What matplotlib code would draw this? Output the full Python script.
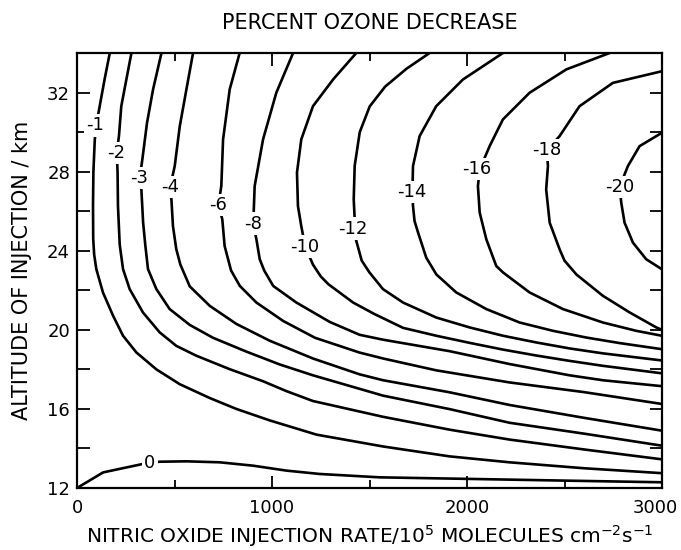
import matplotlib
matplotlib.use('Agg')
import matplotlib.pyplot as plt
from matplotlib.ticker import MultipleLocator, FixedLocator, FixedFormatter

# contours: NO injection rate (1e5 cm-2 s-1) vs altitude (km)
rate_0 = [0, 134, 339, 424, 561, 732, 903, 1074, 1245, 1552, 2014, 2526, 3000]
alt_0 = [12.0, 12.79, 13.22, 13.33, 13.35, 13.30, 13.13, 12.88, 12.71, 12.54, 12.46, 12.37, 12.29]

rate_1 = [168, 142, 116, 98, 91, 84, 82, 83, 88, 99, 133, 185, 236, 304, 407, 527, 681, 817, 988, 1228, 1570, 1911, 2218, 2600, 3000]
alt_1 = [34.0, 32.7, 31.3, 30.3, 29.6, 28.0, 26.3, 24.6, 23.8, 23.07, 21.89, 20.71, 19.7, 18.86, 18.0, 17.25, 16.55, 16.0, 15.42, 14.7, 14.1, 13.6, 13.3, 13.0, 12.75]

rate_2 = [279, 253, 227, 215, 204, 208, 210, 219, 236, 270, 338, 424, 509, 612, 783, 954, 1074, 1210, 1570, 1911, 2218, 2600, 3000]
alt_2 = [34.0, 32.66, 31.31, 29.8, 28.96, 27.95, 26.26, 24.3, 23.07, 22.06, 20.88, 19.87, 19.19, 18.69, 18.01, 17.4, 16.9, 16.4, 15.6, 14.95, 14.45, 13.95, 13.45]

rate_3 = [433, 390, 359, 335, 322, 330, 339, 350, 364, 407, 475, 578, 697, 868, 1039, 1210, 1570, 1911, 2218, 2600, 3000]
alt_3 = [34.0, 32.16, 30.47, 28.62, 27.69, 27.1, 25.42, 24.3, 23.07, 22.06, 21.05, 20.25, 19.6, 18.9, 18.25, 17.7, 16.67, 15.99, 15.3, 14.75, 14.14]

rate_4 = [595, 561, 527, 501, 478, 484, 492, 509, 530, 578, 681, 817, 988, 1210, 1449, 1570, 1911, 2218, 2600, 3000]
alt_4 = [34.0, 32.16, 30.3, 28.28, 27.24, 26.6, 25.25, 24.08, 23.3, 22.2, 21.21, 20.3, 19.45, 18.55, 17.75, 17.45, 16.84, 16.2, 15.55, 14.9]

rate_6 = [834, 783, 749, 740, 725, 745, 757, 790, 835, 920, 1057, 1220, 1449, 1570, 1843, 2218, 2600, 3000]
alt_6 = [34.0, 32.16, 29.63, 27.27, 26.31, 25.59, 24.24, 23.0, 22.22, 21.38, 20.45, 19.6, 18.85, 18.55, 17.95, 17.34, 16.85, 16.25]

rate_8 = [1108, 1022, 954, 911, 906, 903, 920, 937, 960, 1006, 1125, 1296, 1449, 1570, 1911, 2218, 2526, 2697, 3000]
alt_8 = [34.0, 31.99, 29.63, 27.27, 25.93, 25.37, 24.58, 23.57, 23.0, 22.22, 21.38, 20.4, 19.75, 19.5, 18.92, 18.27, 17.7, 17.45, 17.15]

rate_10 = [1432, 1313, 1210, 1150, 1128, 1133, 1150, 1170, 1210, 1250, 1290, 1416, 1525, 1672, 1843, 2014, 2185, 2356, 2526, 2697, 3000]
alt_10 = [34.0, 32.66, 31.31, 29.63, 27.95, 26.26, 25.25, 24.21, 23.3, 22.7, 22.3, 21.38, 20.8, 20.1, 19.7, 19.34, 19.0, 18.7, 18.43, 18.18, 17.8]

rate_12 = [1808, 1689, 1580, 1501, 1450, 1424, 1419, 1424, 1415, 1435, 1460, 1500, 1569, 1672, 1843, 2014, 2185, 2356, 2526, 2697, 3000]
alt_12 = [34.0, 33.2, 32.3, 31.3, 30.0, 28.3, 26.6, 25.6, 25.12, 24.4, 23.5, 22.9, 22.06, 21.38, 20.62, 20.12, 19.70, 19.36, 19.06, 18.81, 18.45]

rate_14 = [2184, 1979, 1842, 1757, 1723, 1720, 1723, 1731, 1749, 1791, 1843, 1945, 2099, 2270, 2441, 2612, 2783, 3000]
alt_14 = [34.0, 32.66, 31.31, 29.8, 28.28, 26.97, 26.26, 25.5, 24.92, 23.65, 22.8, 21.89, 21.05, 20.37, 19.95, 19.61, 19.33, 19.02]

rate_16 = [2731, 2509, 2321, 2184, 2116, 2065, 2056, 2065, 2099, 2150, 2185, 2321, 2492, 2697, 2868, 3000]
alt_16 = [34.0, 33.17, 31.99, 30.64, 29.29, 28.11, 27.27, 25.93, 24.58, 23.23, 22.9, 21.89, 21.05, 20.37, 19.95, 19.70]

rate_18 = [3000, 2748, 2577, 2475, 2410, 2415, 2406, 2424, 2475, 2500, 2561, 2697, 2834, 2971, 3000]
alt_18 = [33.08, 32.49, 31.31, 29.8, 29.09, 28.28, 27.1, 25.42, 24.07, 23.5, 22.8, 21.72, 20.88, 20.12, 20.0]

rate_20 = [3000, 2885, 2825, 2783, 2791, 2808, 2851, 2919, 3000]
alt_20 = [29.97, 29.29, 28.28, 27.24, 26.43, 25.42, 24.41, 23.57, 23.06]

# contour labels
label_text = ['0', '-1', '-2', '-3', '-4', '-6', '-8', '-10', '-12', '-14', '-16', '-18', '-20']
label_rate = [373, 94, 202, 318, 475, 723, 903, 1167, 1415, 1718, 2048, 2410, 2783]
label_alt = [13.25, 30.34, 28.96, 27.69, 27.24, 26.31, 25.37, 24.21, 25.12, 26.97, 28.15, 29.09, 27.24]

x_ticks = [0, 1000, 2000, 3000]
x_ticklabels = ['0', '1000', '2000', '3000']

lines = [(rate_0, alt_0), (rate_1, alt_1), (rate_2, alt_2), (rate_3, alt_3),
         (rate_4, alt_4), (rate_6, alt_6), (rate_8, alt_8), (rate_10, alt_10),
         (rate_12, alt_12), (rate_14, alt_14), (rate_16, alt_16),
         (rate_18, alt_18), (rate_20, alt_20)]

fig = plt.figure(figsize=(6.81, 5.5), dpi=100)
ax = fig.add_axes([0.1131, 0.1127, 0.859, 0.7909])

for r, a in lines:
    ax.plot(r, a, color='black', lw=1.9, solid_joinstyle='round')

for t, r, a in zip(label_text, label_rate, label_alt):
    ax.text(r, a, t, fontsize=13, ha='center', va='center', zorder=5,
            bbox=dict(boxstyle='square,pad=0.12', fc='white', ec='none'))

ax.set_xlim(0, 3000)
ax.set_ylim(12, 34)
ax.xaxis.set_major_locator(FixedLocator(x_ticks))
# last label is drawn separately, nudged left so it stays inside the figure
ax.xaxis.set_major_formatter(FixedFormatter(x_ticklabels[:-1] + ['']))
ax.xaxis.set_minor_locator(MultipleLocator(500))
ax.yaxis.set_major_locator(MultipleLocator(4))
ax.yaxis.set_minor_locator(MultipleLocator(2))
ax.tick_params(which='both', direction='in', top=True, right=True, width=1.3,
               labelsize=13)
ax.tick_params(which='major', length=9)
ax.tick_params(axis='y', which='major', pad=5)
ax.tick_params(axis='x', which='major', pad=8)
ax.tick_params(axis='y', which='minor', length=9)
ax.tick_params(axis='x', which='minor', length=6)
for s in ax.spines.values():
    s.set_linewidth(1.6)

ax.annotate(x_ticklabels[-1], xy=(x_ticks[-1], 0), xycoords=('data', 'axes fraction'),
            xytext=(-5, -8), textcoords='offset points', ha='center', va='top',
            fontsize=13)

ax.set_title('PERCENT OZONE DECREASE', fontsize=15, pad=17)
ax.set_xlabel(r'NITRIC OXIDE INJECTION RATE/10$^5$ MOLECULES cm$^{-2}$s$^{-1}$',
              fontsize=14.5)
ax.set_ylabel('ALTITUDE OF INJECTION / km', fontsize=15)
ax.xaxis.label.set_va('center')
ax.yaxis.label.set_va('center')
ax.xaxis.set_label_coords(0.5, -0.11)
ax.yaxis.set_label_coords(-0.094, 0.5)

fig.savefig('out.png', dpi=100)
